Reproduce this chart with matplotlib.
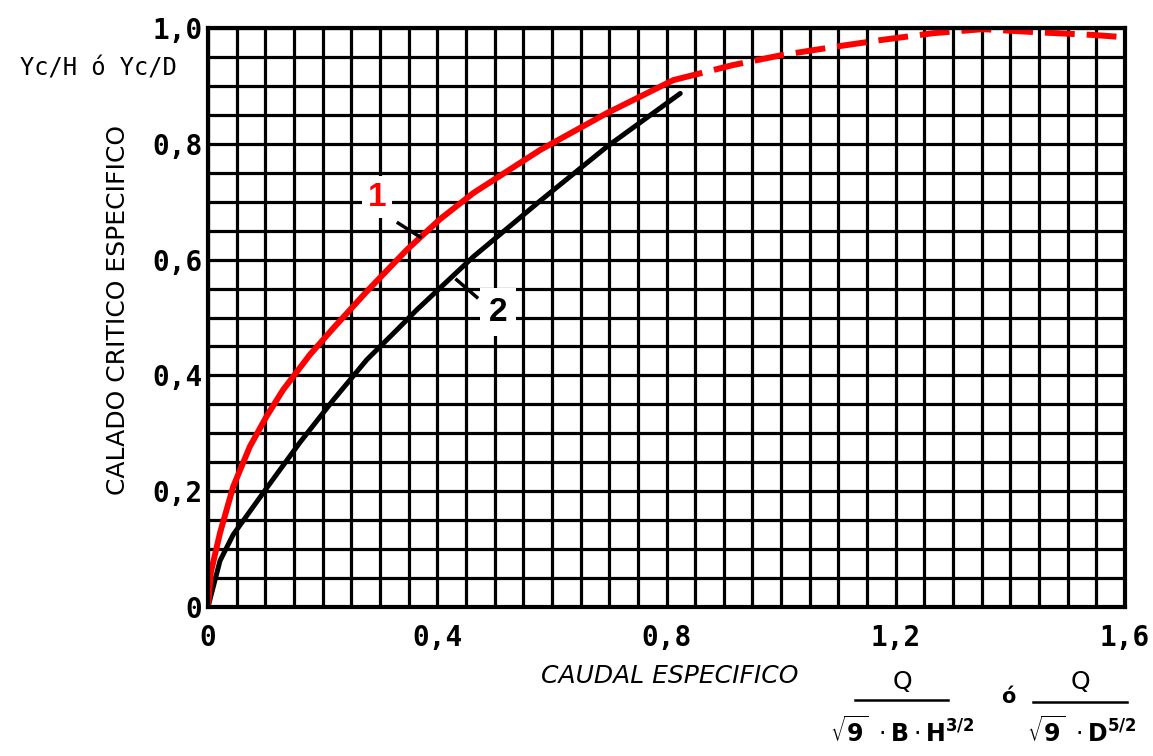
import numpy as np
import matplotlib
matplotlib.use("Agg")
import matplotlib.pyplot as plt
from matplotlib.lines import Line2D

# curva 1 (roja), tramo continuo
x1 = [0, 0.005, 0.021, 0.044, 0.073, 0.102, 0.131, 0.178, 0.219, 0.277,
      0.347, 0.405, 0.463, 0.579, 0.696, 0.812]
y1 = [0, 0.060, 0.128, 0.208, 0.277, 0.329, 0.375, 0.436, 0.482, 0.545,
      0.617, 0.670, 0.715, 0.789, 0.853, 0.910]
# curva 1, tramo a trazos
x1d = [0.812, 0.916, 1.0, 1.09, 1.18, 1.265, 1.352, 1.44, 1.544, 1.6]
y1d = [0.910, 0.936, 0.953, 0.967, 0.980, 0.991, 0.998, 0.993, 0.988, 0.984]
# curva 2 (negra)
x2 = [0, 0.021, 0.044, 0.102, 0.161, 0.219, 0.277, 0.329, 0.364, 0.463,
      0.579, 0.696, 0.824]
y2 = [0, 0.080, 0.125, 0.205, 0.285, 0.358, 0.427, 0.478, 0.513, 0.605,
      0.701, 0.795, 0.887]

x_ticks = [0, 0.4, 0.8, 1.2, 1.6]
x_labels = ["0", "0,4", "0,8", "1,2", "1,6"]
y_ticks = [0, 0.2, 0.4, 0.6, 0.8, 1.0]
y_labels = ["0", "0,2", "0,4", "0,6", "0,8", "1,0"]

W, H = 1153, 756
fig = plt.figure(figsize=(W / 100, H / 100), dpi=100)
ax = fig.add_axes([208 / W, 1 - 607 / H, 917 / W, 579 / H])

ax.set_xlim(0, 1.6)
ax.set_ylim(0, 1.0)

# cuadricula densa cada 0,05
ax.set_xticks(np.arange(0, 1.601, 0.05), minor=True)
ax.set_yticks(np.arange(0, 1.001, 0.05), minor=True)
ax.set_xticks(x_ticks)
ax.set_yticks(y_ticks)
ax.grid(which="both", color="black", lw=2.3)
ax.set_axisbelow(True)
ax.tick_params(which="both", length=0)
ax.tick_params(axis="x", pad=12)
ax.tick_params(axis="y", pad=4)
ax.set_xticklabels(x_labels, fontsize=20, fontweight="bold", family="DejaVu Sans Mono")
ax.set_yticklabels(y_labels, fontsize=20, fontweight="bold", family="DejaVu Sans Mono")
for s in ax.spines.values():
    s.set_linewidth(3)

# curvas
ax.plot(x2, y2, color="black", lw=3.6, solid_capstyle="round")
ax.plot(x1, y1, color="#ff0000", lw=4.3, solid_capstyle="round")
ax.plot(x1d, y1d, color="#ff0000", lw=4.3, dashes=(5, 2), clip_on=False)

# etiquetas de curvas
ax.text(0.295, 0.708, "1", color="#ff0000", fontsize=24, fontweight="bold",
        ha="center", va="center", family="Liberation Sans",
        bbox=dict(facecolor="white", edgecolor="none", pad=4))
ax.plot([0.332, 0.370], [0.663, 0.639], color="black", lw=2.5)
ax.text(0.506, 0.509, "2", color="black", fontsize=24, fontweight="bold",
        ha="center", va="center", family="Liberation Sans",
        bbox=dict(facecolor="white", edgecolor="none", pad=6))
ax.plot([0.434, 0.469], [0.565, 0.535], color="black", lw=2.5)

# textos de ejes
fig.text(20 / W, 1 - 68 / H, "Yc/H ó Yc/D", fontsize=17,
         family="DejaVu Sans Mono", va="center", ha="left")
fig.text(118 / W, 1 - 310 / H, "CALADO CRITICO ESPECIFICO", fontsize=18,
         rotation=90, va="center", ha="center", family="DejaVu Sans")
fig.text(670 / W, 1 - 676 / H, "CAUDAL ESPECIFICO", fontsize=18,
         va="center", ha="center", family="DejaVu Sans", style="italic")

# Q / (sqrt(g) B H^3/2)  o  Q / (sqrt(g) D^5/2)
fig.text(902 / W, 1 - 682 / H, "Q", fontsize=18, ha="center", va="center",
         family="DejaVu Sans")
fig.add_artist(Line2D([855 / W, 948 / W], [1 - 700 / H, 1 - 700 / H],
                      color="black", lw=1.8))
fig.text(902 / W, 1 - 732 / H, r"$\sqrt{\mathbf{9}}\ \cdot\mathbf{B}\cdot\mathbf{H}^{\mathbf{3/2}}$",
         fontsize=17, ha="center", va="center")
fig.text(1008 / W, 1 - 697 / H, "ó", fontsize=15, fontweight="bold",
         ha="center", va="center")
fig.text(1080 / W, 1 - 682 / H, "Q", fontsize=18, ha="center", va="center",
         family="DejaVu Sans")
fig.add_artist(Line2D([1033 / W, 1127 / W], [1 - 702 / H, 1 - 702 / H],
                      color="black", lw=1.8))
fig.text(1082 / W, 1 - 732 / H, r"$\sqrt{\mathbf{9}}\ \cdot\mathbf{D}^{\mathbf{5/2}}$",
         fontsize=17, ha="center", va="center")

fig.savefig("out.png", dpi=100)
